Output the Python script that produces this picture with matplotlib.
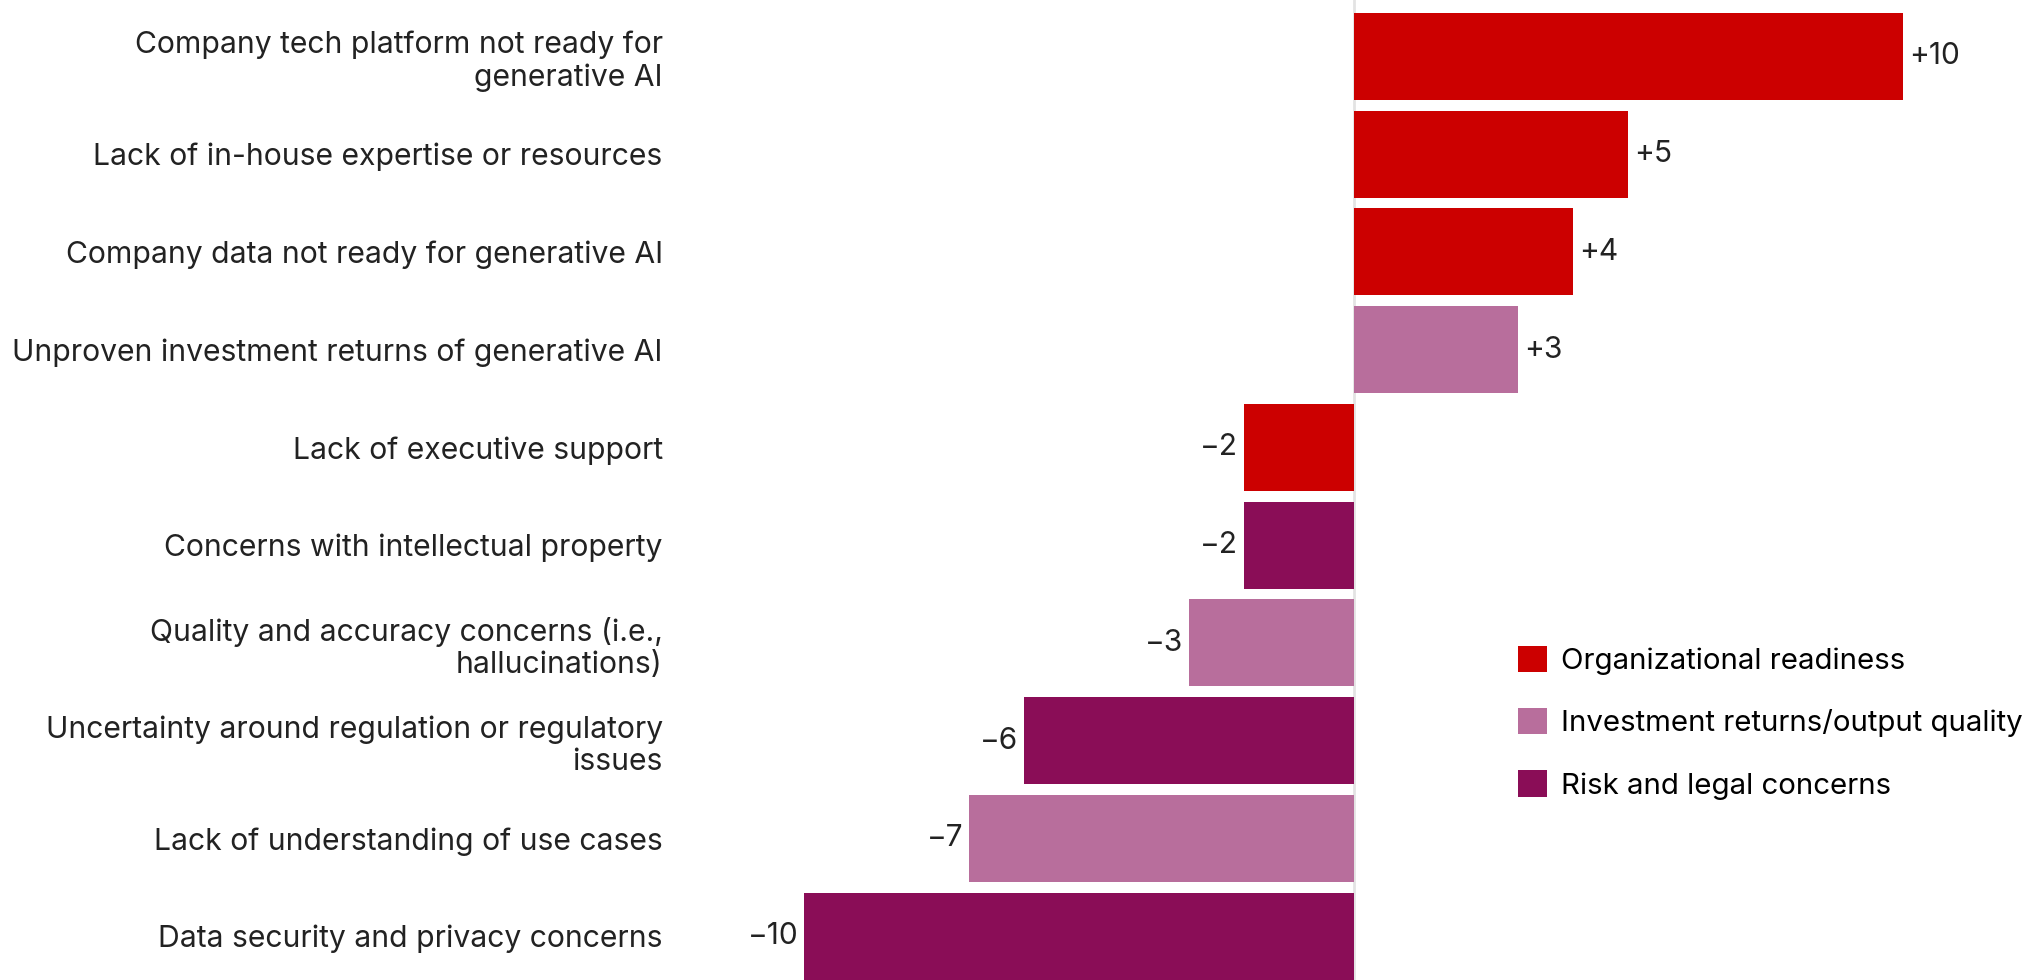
import matplotlib
matplotlib.use("Agg")
import matplotlib.pyplot as plt
from matplotlib.patches import Patch

plt.rcParams['font.family'] = ['Inter', 'DejaVu Sans']

categories = [
    "Company tech platform not ready for\ngenerative AI",
    "Lack of in-house expertise or resources",
    "Company data not ready for generative AI",
    "Unproven investment returns of generative AI",
    "Lack of executive support",
    "Concerns with intellectual property",
    "Quality and accuracy concerns (i.e.,\nhallucinations)",
    "Uncertainty around regulation or regulatory\nissues",
    "Lack of understanding of use cases",
    "Data security and privacy concerns",
]
values = [10, 5, 4, 3, -2, -2, -3, -6, -7, -10]
groups = [
    "Organizational readiness",
    "Organizational readiness",
    "Organizational readiness",
    "Investment returns/output quality",
    "Organizational readiness",
    "Risk and legal concerns",
    "Investment returns/output quality",
    "Risk and legal concerns",
    "Investment returns/output quality",
    "Risk and legal concerns",
]
group_names = ["Organizational readiness", "Investment returns/output quality",
               "Risk and legal concerns"]
group_colors = {
    "Organizational readiness": "#CC0000",
    "Investment returns/output quality": "#B86E9C",
    "Risk and legal concerns": "#8A0D57",
}

W, H = 2028, 980
fig = plt.figure(figsize=(W / 100, H / 100), dpi=100)
ax_left, ax_right = 776.6, 1930.6
ax = fig.add_axes([ax_left / W, 0, (ax_right - ax_left) / W, 1])

ypos = list(range(len(values)))
colors = [group_colors[g] for g in groups]
ax.barh(ypos, values, height=0.89, color=colors, zorder=2)
ax.axvline(0, color="#e3e3e3", lw=2, zorder=1)

ax.set_xlim(-10.5, 10.5)
ax.set_ylim(9.45, -0.578)

fs_cat = 21.7
fs_val = 21.5
fs_leg = 21.2
for y, v in zip(ypos, values):
    txt = f"+{v}" if v > 0 else f"\u2212{abs(v)}"
    ax.annotate(txt, (v, y), xytext=(4 if v > 0 else -4, 0), textcoords="offset points",
                ha="left" if v > 0 else "right", va="center", fontsize=fs_val,
                color="#222222")

ax.set_yticks(ypos)
ax.set_yticklabels(categories, fontsize=fs_cat, color="#222222", ha="right",
                   linespacing=1.18)
ax.tick_params(axis="y", length=0, pad=82)
ax.set_xticks([])
for s in ax.spines.values():
    s.set_visible(False)

handles = [Patch(facecolor=group_colors[g], edgecolor="none", label=g) for g in group_names]
fig.legend(handles=handles, loc="upper left", bbox_to_anchor=(1512 / W, 1 - 640 / H),
           frameon=False, fontsize=fs_leg, handlelength=1.0, handleheight=1.0,
           handletextpad=0.45, labelspacing=1.12, borderaxespad=0, borderpad=0.2)

fig.savefig("out.png", dpi=100)
